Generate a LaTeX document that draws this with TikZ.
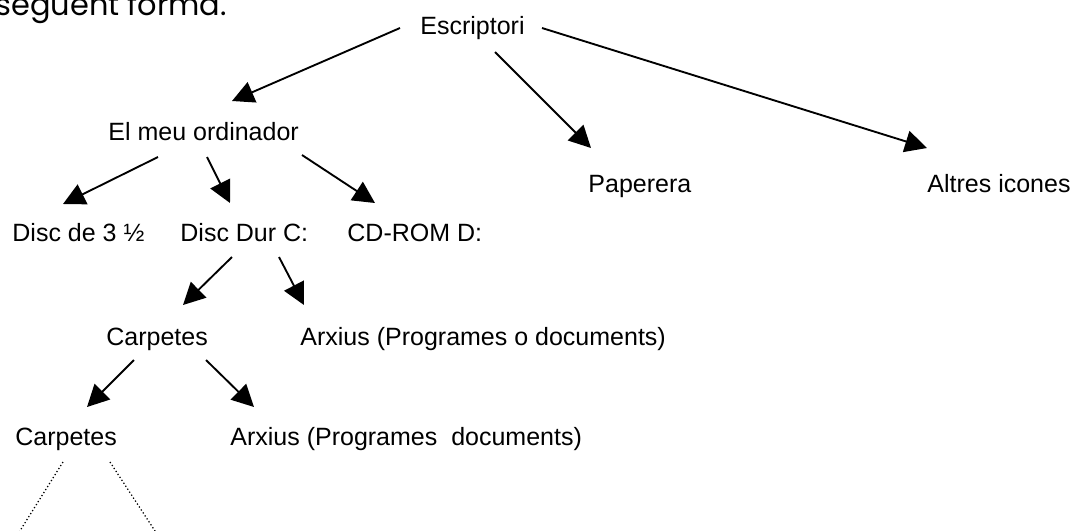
\documentclass[tikz,border=0pt]{standalone}
\usepackage{fontspec}
\setmainfont{Liberation Sans}
\newfontfamily\titlefont{Poppins}
\usetikzlibrary{arrows.meta,calc}
\begin{document}
\begin{tikzpicture}[x=0.48pt,y=-0.48pt,
  lbl/.style={anchor=base west,inner sep=0pt,font=\fontsize{12}{14}\selectfont},
  arr/.style={line width=0.9pt,-{Triangle[length=10.5pt,width=10.5pt]}},
  dotline/.style={line width=0.6pt,dash pattern=on 0.6pt off 1.1pt}]
\useasboundingbox (0,0) rectangle (1083,530);
\clip (0,0) rectangle (1083,530);
\node[anchor=base west,inner sep=0pt,font=\titlefont\fontsize{14.6}{16}\selectfont] (title) at (-5,15) {següent forma.};
\node[lbl] (esc) at (420,34) {Escriptori};
\node[lbl] (mo) at (108,140) {El meu ordinador};
\node[lbl] (pap) at (588,192) {Paperera};
\node[lbl] (alt) at (927,192) {Altres icones};
\node[lbl] (d35) at (12,241) {Disc de 3 ½};
\node[lbl] (ddc) at (180,241) {Disc Dur C:};
\node[lbl] (cd) at (347,241) {CD-ROM D:};
\node[lbl] (carpa) at (106,345) {Carpetes};
\node[lbl] (arxa) at (300,345) {Arxius (Programes o documents)};
\node[lbl] (carpb) at (15,445) {Carpetes};
\node[lbl] (arxb) at (230,445) {Arxius (Programes\ \ documents)};
\coordinate (dl) at (18,534);
\coordinate (dr) at (157,534);
\draw[arr] ($(esc.base west)+(-20,-6)$) -- ($(mo.base west)+(124,-39)$);
\draw[arr] ($(esc.base west)+(75,18)$) -- ($(pap.base west)+(3,-44)$);
\draw[arr] ($(esc.base west)+(122,-6)$) -- ($(alt.base west)+(0,-44)$);
\draw[arr] ($(mo.base west)+(50,17)$) -- ($(d35.base west)+(51,-37)$);
\draw[arr] ($(mo.base west)+(99,17)$) -- ($(ddc.base west)+(50,-38)$);
\draw[arr] ($(mo.base west)+(194,15)$) -- ($(cd.base west)+(28,-38)$);
\draw[arr] ($(ddc.base west)+(52,16)$) -- ($(carpa.base west)+(77,-40)$);
\draw[arr] ($(ddc.base west)+(99,16)$) -- ($(arxa.base west)+(4,-40)$);
\draw[arr] ($(carpa.base west)+(28,15)$) -- ($(carpb.base west)+(72,-38)$);
\draw[arr] ($(carpa.base west)+(100,15)$) -- ($(arxb.base west)+(24,-38)$);
\draw[dotline] ($(carpb.base west)+(48,17)$) -- (dl);
\draw[dotline] ($(carpb.base west)+(95,17)$) -- (dr);
\end{tikzpicture}
\end{document}
